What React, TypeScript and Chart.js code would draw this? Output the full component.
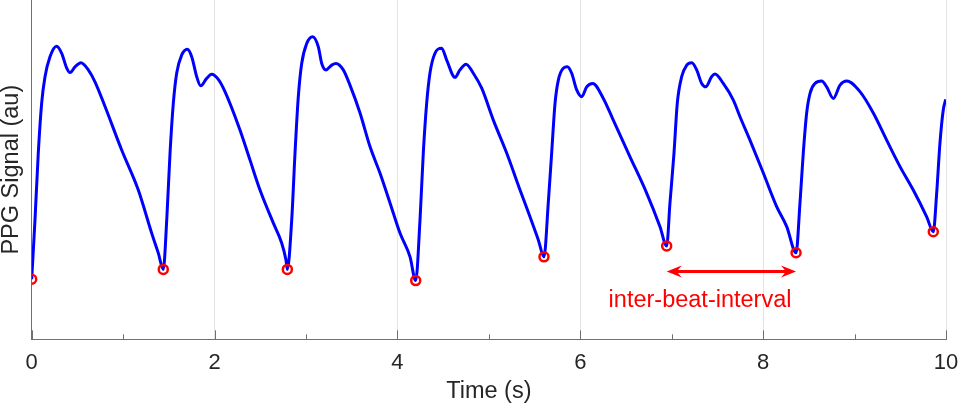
import React, { useEffect, useRef } from 'react';
import Chart from 'chart.js/auto';

// PPG trace (time in s, signal in arbitrary units)
const timeS = [
  0.000, 0.036, 0.072, 0.109, 0.145, 0.200, 0.273, 0.328, 0.383, 0.419, 0.474, 0.539, 0.619, 0.692, 0.802, 0.984, 1.166, 1.312, 1.385, 1.439,
  1.477, 1.513, 1.549, 1.586, 1.641, 1.702, 1.750, 1.805, 1.848, 1.914, 1.969, 2.041, 2.114, 2.278, 2.388, 2.497, 2.642, 2.734, 2.781, 2.796,
  2.844, 2.880, 2.916, 2.953, 3.008, 3.073, 3.135, 3.172, 3.219, 3.281, 3.328, 3.408, 3.481, 3.591, 3.700, 3.809, 3.919, 4.028, 4.138, 4.200,
  4.247, 4.283, 4.320, 4.356, 4.411, 4.484, 4.539, 4.630, 4.684, 4.750, 4.830, 4.922, 5.049, 5.195, 5.341, 5.450, 5.541, 5.603,
  5.650, 5.687, 5.724, 5.760, 5.814, 5.858, 5.906, 5.961, 6.016, 6.070, 6.136, 6.252, 6.361, 6.544, 6.726, 6.872, 6.945,
  6.981, 7.025, 7.061, 7.109, 7.164, 7.219, 7.273, 7.328, 7.372, 7.437, 7.473, 7.564, 7.674, 7.747, 7.856, 8.002, 8.148, 8.258, 8.360,
  8.403, 8.439, 8.476, 8.513, 8.567, 8.640, 8.695, 8.767, 8.841, 8.914, 9.059, 9.205, 9.351, 9.497, 9.642, 9.789, 9.861,
  9.898, 9.934, 9.970, 9.997,
];
const ppg = [
  17.7, 35.2, 54.9, 69.6, 77.3, 83.3, 86.4, 84.3, 79.9, 78.6, 80.3, 81.5, 79.4, 75.9, 68.6, 55.8, 44.0, 31.3, 25.4, 20.6,
  35.2, 54.9, 69.6, 78.5, 83.8, 85.5, 83.3, 77.4, 74.7, 76.9, 78.1, 76.6, 73.0, 61.7, 52.8, 44.0, 34.3, 28.4, 23.4, 20.6,
  35.2, 54.9, 71.5, 81.3, 87.2, 89.2, 86.2, 81.3, 79.4, 80.8, 81.3, 79.4, 74.9, 66.7, 56.8, 49.0, 40.2, 31.3, 24.3, 17.3,
  35.2, 54.9, 69.6, 78.5, 84.3, 85.8, 82.3, 77.2, 79.4, 81.1, 78.4, 74.0, 64.6, 54.9, 44.0, 36.1, 29.3, 24.3,
  40.2, 54.9, 69.6, 76.4, 79.9, 80.3, 78.4, 73.5, 71.5, 74.4, 75.4, 71.0, 64.6, 53.8, 43.1, 33.2, 27.5,
  40.2, 54.9, 69.6, 77.4, 80.8, 81.5, 79.4, 75.4, 74.4, 77.4, 78.2, 75.4, 70.5, 65.6, 58.7, 49.0, 39.1, 33.2, 25.5,
  40.2, 54.9, 66.7, 72.5, 75.4, 76.1, 74.4, 71.0, 74.9, 76.1, 73.0, 66.7, 58.7, 50.9, 44.0, 36.1, 31.7,
  43.1, 57.9, 67.6, 70.7,
];

// detected beat onsets (red circles)
const beatTimes = [0.000, 1.439, 2.796, 4.200, 5.603, 6.945, 8.360, 9.861];
const beatValues = [17.7, 20.6, 20.6, 17.3, 24.3, 27.5, 25.5, 31.7];

// axis ranges: x labelled every 2 s, minor ticks every 1 s
const xMin = 0;
const xMax = 10;
const yMin = 0;
const yMax = 100;

// inter-beat-interval annotation
const ibiFrom = 6.945;
const ibiTo = 8.36;
const ibiY = 20;
const ibiLabel = 'inter-beat-interval';
const ibiLabelX = 7.31;
const ibiLabelY = 11.5;

const FONT = '"Liberation Sans", Arial, Helvetica, sans-serif';
const AXIS = '#707070';
const TEXT = '#262626';
const RED = '#ff0000';

const inwardTicks = {
  id: 'inwardTicks',
  beforeDatasetsDraw(chart: any) {
    const { ctx, chartArea } = chart;
    const x = chart.scales.x;
    ctx.save();
    ctx.strokeStyle = AXIS;
    ctx.lineWidth = 1;
    x.ticks.forEach((t: any) => {
      const px = Math.round(x.getPixelForValue(t.value)) + 0.5;
      const len = t.value % 2 === 0 ? 9 : 5;
      ctx.beginPath();
      ctx.moveTo(px, chartArea.bottom);
      ctx.lineTo(px, chartArea.bottom - len);
      ctx.stroke();
    });
    ctx.restore();
  },
};

const ibiArrow = {
  id: 'ibiArrow',
  afterDatasetsDraw(chart: any) {
    const { ctx } = chart;
    const { x, y } = chart.scales;
    const x0 = x.getPixelForValue(ibiFrom);
    const x1 = x.getPixelForValue(ibiTo);
    const py = y.getPixelForValue(ibiY);
    ctx.save();
    ctx.strokeStyle = RED;
    ctx.fillStyle = RED;
    ctx.lineWidth = 3;
    ctx.beginPath();
    ctx.moveTo(x0 + 8, py);
    ctx.lineTo(x1 - 8, py);
    ctx.stroke();
    const head = (tip: number, dir: number) => {
      ctx.beginPath();
      ctx.moveTo(tip, py);
      ctx.lineTo(tip + dir * 15, py - 6);
      ctx.lineTo(tip + dir * 10, py);
      ctx.lineTo(tip + dir * 15, py + 6);
      ctx.closePath();
      ctx.fill();
    };
    head(x0, 1);
    head(x1, -1);
    ctx.font = `23.5px ${FONT}`;
    ctx.textAlign = 'center';
    ctx.textBaseline = 'middle';
    ctx.fillText(ibiLabel, x.getPixelForValue(ibiLabelX), y.getPixelForValue(ibiLabelY));
    ctx.restore();
  },
};

const App: React.FC = () => {
  const canvasRef = useRef<HTMLCanvasElement>(null);
  const chartRef = useRef<Chart | null>(null);

  useEffect(() => {
    const ctx = canvasRef.current?.getContext('2d');
    if (!ctx) return;
    if (chartRef.current) chartRef.current.destroy();

    chartRef.current = new Chart(ctx, {
      type: 'line',
      data: {
        datasets: [
          {
            label: 'beats',
            data: beatTimes.map((t, i) => ({ x: t, y: beatValues[i] })),
            showLine: false,
            pointStyle: 'circle',
            pointRadius: 4.5,
            pointBorderWidth: 2.5,
            pointBorderColor: RED,
            pointBackgroundColor: 'rgba(0,0,0,0)',
          },
          {
            label: 'PPG',
            data: timeS.map((t, i) => ({ x: t, y: ppg[i] })),
            borderColor: '#0000ff',
            borderWidth: 3,
            pointRadius: 0,
            cubicInterpolationMode: 'monotone',
            fill: false,
          },
        ],
      },
      options: {
        animation: false,
        responsive: true,
        maintainAspectRatio: false,
        layout: { autoPadding: false, padding: { left: 0, top: 0, right: 14, bottom: 0 } },
        plugins: {
          legend: { display: false },
          tooltip: { enabled: false },
        },
        scales: {
          x: {
            type: 'linear',
            min: xMin,
            max: xMax,
            afterFit: (s: any) => {
              s.height = 67.7;
              s.paddingLeft = 0;
              s.paddingRight = 0;
            },
            border: { display: true, color: AXIS, width: 1 },
            grid: {
              drawTicks: false,
              color: (c: any) =>
                c.tick && c.tick.value % 2 === 0 && c.tick.value !== 0 ? '#e4e4e4' : 'rgba(0,0,0,0)',
            },
            ticks: {
              stepSize: 1,
              autoSkip: false,
              maxRotation: 0,
              padding: 10,
              color: TEXT,
              font: { family: FONT, size: 22 },
              callback: (v: any) => (Number(v) % 2 === 0 ? String(v) : ''),
            },
            title: {
              display: true,
              text: 'Time (s)',
              color: TEXT,
              font: { family: FONT, size: 23.5, lineHeight: 1.2 },
              padding: { top: 0, bottom: 1 },
            },
          },
          y: {
            min: yMin,
            max: yMax,
            afterFit: (s: any) => {
              s.width = 31.7;
              s.paddingTop = 0;
              s.paddingBottom = 0;
            },
            border: { display: true, color: AXIS, width: 1 },
            grid: { display: false, drawTicks: false },
            ticks: { display: false },
            title: {
              display: true,
              text: 'PPG Signal (au)',
              color: TEXT,
              font: { family: FONT, size: 23.5, lineHeight: 1.0 },
              padding: { top: 0, bottom: 0 },
            },
          },
        },
      },
      plugins: [inwardTicks, ibiArrow],
    });

    return () => {
      if (chartRef.current) {
        chartRef.current.destroy();
        chartRef.current = null;
      }
    };
  }, []);

  return (
    <div style={{ position: 'fixed', left: 0, top: 0, width: 960, height: 407, background: '#fff' }}>
      <canvas ref={canvasRef} />
    </div>
  );
};

export default App;
